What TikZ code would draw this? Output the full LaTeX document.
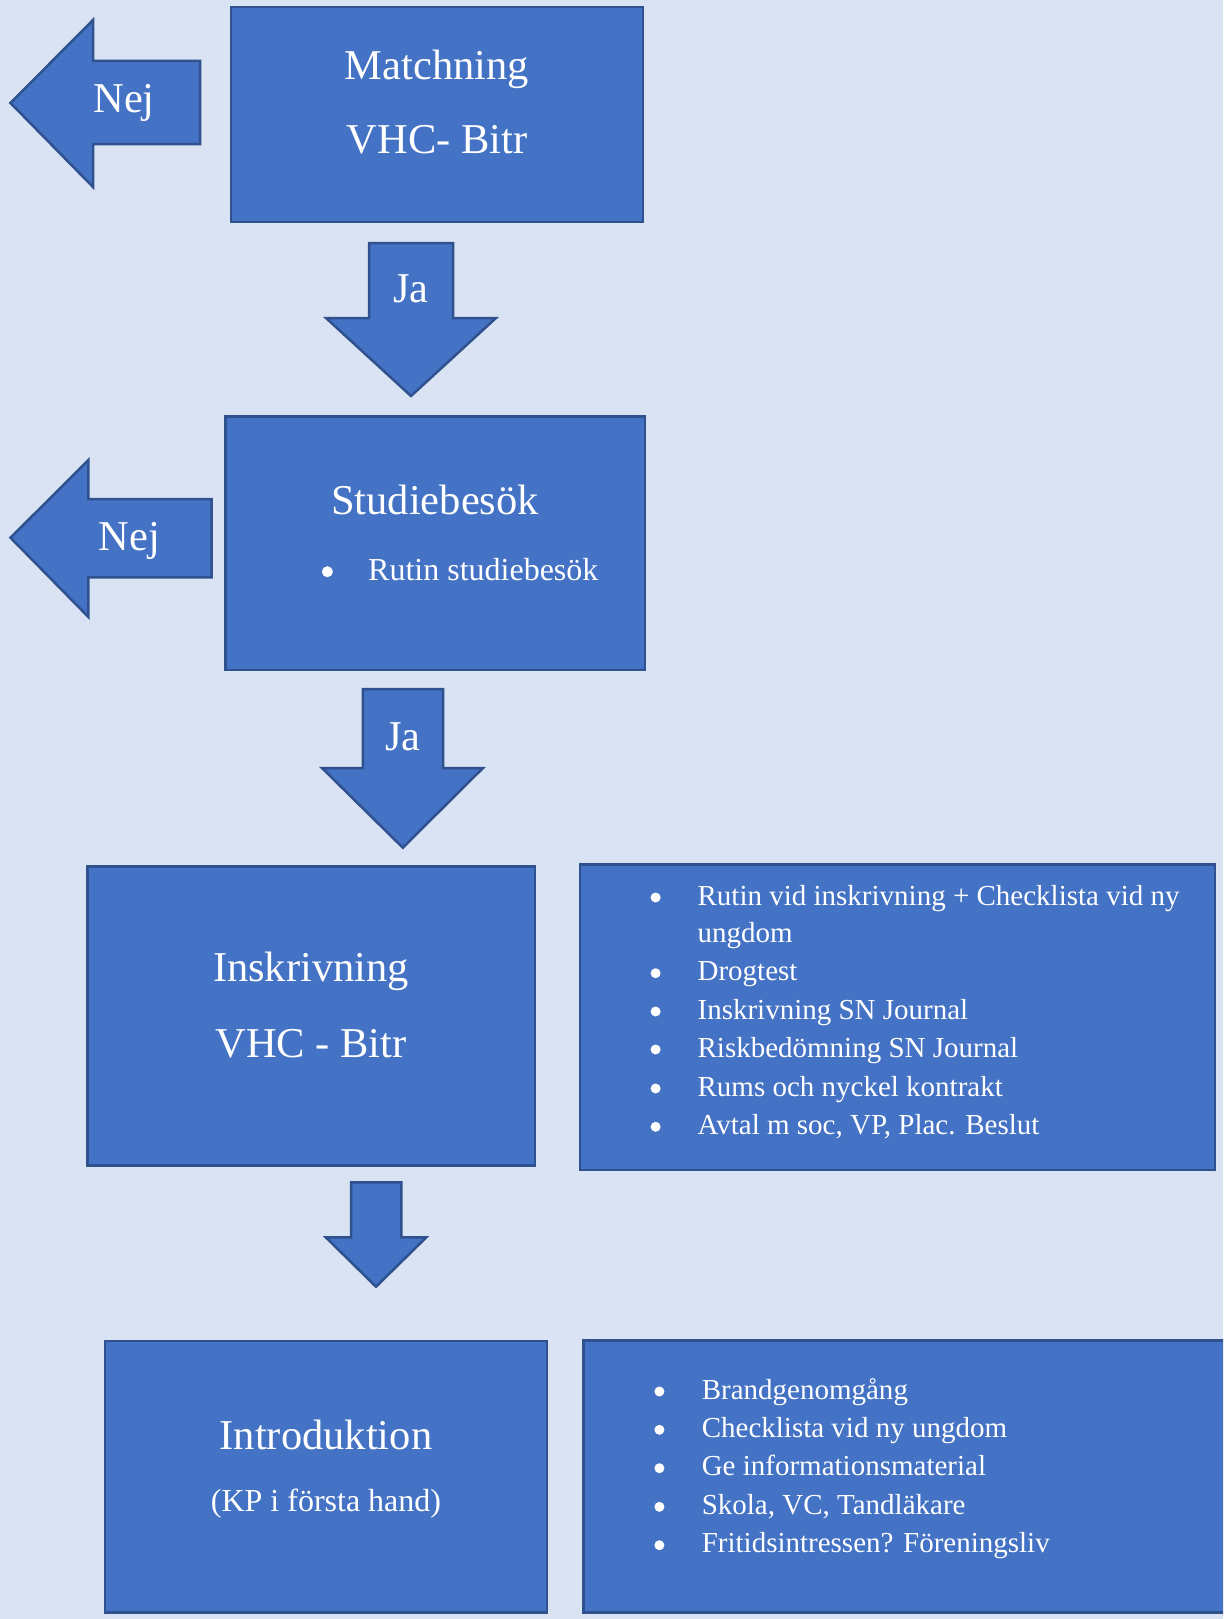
\documentclass[tikz,border=0pt]{standalone}
\usepackage{fontspec}
\setmainfont{Liberation Serif}
\definecolor{bg}{HTML}{DAE3F3}
\definecolor{boxfill}{HTML}{4472C4}
\definecolor{boxline}{HTML}{2F528F}
\tikzset{
  box/.style={draw=boxline, fill=boxfill, line width=2.5pt},
  blockarrow/.style={draw=boxline, fill=boxfill, line width=2.5pt, line join=miter},
  title/.style={text=white, inner sep=0pt, anchor=base, font=\fontsize{42.5}{50}\selectfont},
  subtitle/.style={text=white, inner sep=0pt, anchor=base, font=\fontsize{32}{38}\selectfont},
  item/.style={text=white, inner sep=0pt, anchor=base west, font=\fontsize{29}{35}\selectfont},
  bigitem/.style={text=white, inner sep=0pt, anchor=base west, font=\fontsize{32}{38}\selectfont},
  dot/.style={circle, fill=white, inner sep=0pt, minimum size=10pt},
  bigdot/.style={circle, fill=white, inner sep=0pt, minimum size=11pt}
}
\begin{document}
\begin{tikzpicture}[x=1pt,y=-1pt]
\useasboundingbox (0,0) rectangle (1223,1619);
\clip (0,0) rectangle (1223,1619);
\fill[bg] (0,0) rectangle (1223,1619);

% Boxes
\draw[box] (231,7) rectangle (643,222);
\node[title] (m1) at (437,80) {Matchning};
\node[title] (m2) at (437,153) {VHC- Bitr};

\draw[box] (225.6,416.7) rectangle (645,670);
\node[title] (s1) at (435,514) {Studiebesök};
\node[bigdot] (sb) at (327.4,571.7) {};
\node[bigitem] (s2) at (368,580.7) {Rutin studiebesök};

\draw[box] (87.3,866.7) rectangle (535,1165.7);
\node[title] (i1) at (311,981.7) {Inskrivning};
\node[title] (i2) at (311,1057.3) {VHC - Bitr};

\draw[box] (580,864.3) rectangle (1215,1170);
\foreach \y/\t in {905/{Rutin vid inskrivning + Checklista vid ny},980.7/Drogtest,1019/{Inskrivning SN Journal},1057/{Riskbedömning SN Journal},1096/{Rums och nyckel kontrakt},1134.3/{Avtal m soc, VP, Plac. Beslut}}{
  \node[dot] at (655.6,\y-7.5) {};
  \node[item] at (697.4,\y) {\t};
}
\node[item] (r1b) at (697.4,942.7) {ungdom};

\draw[box] (105.2,1341) rectangle (546.9,1612.3);
\node[title] (n1) at (326,1449) {Introduktion};
\node[subtitle] (n2) at (326,1511.7) {(KP i första hand)};

\draw[box] (583.3,1340.7) rectangle (1240,1612.3);
\foreach \y/\t in {1399/Brandgenomgång,1437.3/{Checklista vid ny ungdom},1475.7/{Ge informationsmaterial},1514.3/{Skola, VC, Tandläkare},1552.7/{Fritidsintressen? Föreningsliv}}{
  \node[dot] at (659.4,\y-7.5) {};
  \node[item] at (701.6,\y) {\t};
}

% Block arrows
\draw[blockarrow] (10.5,103) -- (93,20) -- (93,61) -- (200,61) -- (200,144) -- (93,144) -- (93,187) -- cycle;
\node[title] (nej1) at (124,112.7) {Nej};

\draw[blockarrow] (369,243) -- (453,243) -- (453,318) -- (496,318) -- (411,396) -- (326,318) -- (369,318) -- cycle;
\node[title] (ja1) at (411,302.7) {Ja};

\draw[blockarrow] (10.5,537.7) -- (88.4,460) -- (88.4,499) -- (211.7,499) -- (211.7,577.3) -- (88.4,577.3) -- (88.4,617) -- cycle;
\node[title] (nej2) at (129.4,550) {Nej};

\draw[blockarrow] (362.8,689) -- (443.2,689) -- (443.2,768) -- (483,768) -- (402.8,847.7) -- (322,768) -- (362.8,768) -- cycle;
\node[title] (ja2) at (403,750.7) {Ja};

\draw[blockarrow] (351,1182.3) -- (401.3,1182.3) -- (401.3,1237.3) -- (426.3,1237.3) -- (376,1286.7) -- (325.8,1237.3) -- (351,1237.3) -- cycle;
\end{tikzpicture}
\end{document}
